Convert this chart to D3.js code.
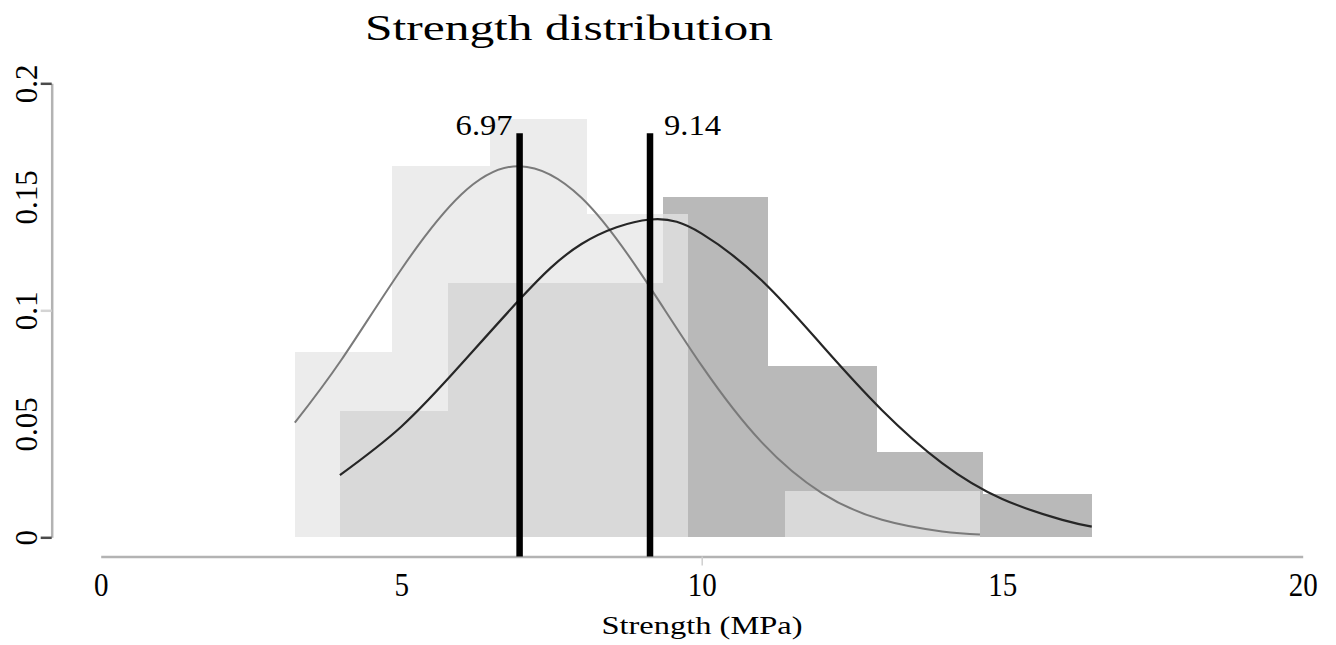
<!DOCTYPE html>
<html>
<head>
<meta charset="utf-8">
<script src="https://cdn.jsdelivr.net/npm/d3@7/dist/d3.min.js"></script>
<style>
  body { margin: 0; background: #fff; }
  svg { display: block; font-family: "Liberation Serif", "Times New Roman", serif; }
</style>
</head>
<body>
<div id="chart"></div>
<script>
'use strict';

// histogram 1 (light): bin edges in MPa and densities
let lightEdges = [3.23, 4.85, 6.48, 8.09, 9.77, 11.39, 13.0, 14.63];
let lightDensity = [0.0815, 0.1634, 0.1843, 0.1425, 0, 0.0205, 0.0205];

// histogram 2 (dark)
let darkEdges = [3.98, 5.78, 7.57, 9.36, 11.11, 12.92, 14.68, 16.49];
let darkDensity = [0.0557, 0.112, 0.112, 0.150, 0.0754, 0.0374, 0.0190];

// fitted density curves [MPa, density]
let lightCurve = [[3.23, 0.0505], [4, 0.078], [5, 0.118], [6, 0.151], [6.97, 0.1635],
    [8, 0.1496], [9, 0.1157], [10, 0.0756], [11, 0.0418], [12, 0.0195],
    [13, 0.0077], [14, 0.0026], [14.63, 0.0012]];
let darkCurve = [[3.98, 0.0274], [5, 0.0487], [6, 0.0763], [7, 0.1056], [8, 0.1292],
    [9.14, 0.140], [10, 0.1338], [11, 0.1131], [12, 0.0846], [13, 0.056],
    [14, 0.0327], [15, 0.0169], [16, 0.0077], [16.49, 0.0047]];

// mean markers
let means = [6.97, 9.14];
let meanLabels = ['6.97', '9.14'];
let meanTop = 0.178;

let xTicks = [0, 5, 10, 15, 20];
let yTicks = [0, 0.05, 0.1, 0.15, 0.2];

let width = 1336,
    height = 645;

let svg = d3.select('#chart')
    .append('svg')
    .attr('width', width)
    .attr('height', height);

let x = d3.scaleLinear().domain([0, 20]).range([100.7, 1302.7]);
let y = d3.scaleLinear().domain([0, 0.2]).range([537.3, 83.3]);
let xAxisY = 556.5,
    yAxisX = 51.7;

// turn edges + densities into bins
function bins(edges, dens) {
    return dens.map(function(d, i) {
        return {x0: edges[i], x1: edges[i + 1], v: d};
    });
}

// dark histogram first, light one on top with transparency
svg.append('g')
    .attr('shape-rendering', 'crispEdges')
    .selectAll('rect')
    .data(bins(darkEdges, darkDensity))
    .enter().append('rect')
    .attr('x', function(d) { return Math.round(x(d.x0)); })
    .attr('width', function(d) { return Math.round(x(d.x1)) - Math.round(x(d.x0)); })
    .attr('y', function(d) { return y(d.v); })
    .attr('height', function(d) { return y(0) - y(d.v); })
    .attr('fill', '#b9b9b9');

svg.append('g')
    .attr('shape-rendering', 'crispEdges')
    .selectAll('rect')
    .data(bins(lightEdges, lightDensity))
    .enter().append('rect')
    .attr('x', function(d) { return Math.round(x(d.x0)); })
    .attr('width', function(d) { return Math.round(x(d.x1)) - Math.round(x(d.x0)); })
    .attr('y', function(d) { return y(d.v); })
    .attr('height', function(d) { return y(0) - y(d.v); })
    .attr('fill', 'rgb(229,229,229)')
    .attr('fill-opacity', 0.73);

// curves
let line = d3.line()
    .x(function(d) { return x(d[0]); })
    .y(function(d) { return y(d[1]); })
    .curve(d3.curveNatural);

svg.append('path')
    .datum(lightCurve)
    .attr('d', line)
    .attr('fill', 'none')
    .attr('stroke', '#7a7a7a')
    .attr('stroke-width', 2);

svg.append('path')
    .datum(darkCurve)
    .attr('d', line)
    .attr('fill', 'none')
    .attr('stroke', '#262626')
    .attr('stroke-width', 2.2);

// x axis
let xAxis = svg.append('g')
    .attr('transform', 'translate(0,' + xAxisY + ')')
    .call(d3.axisBottom(x).tickValues(xTicks).tickSize(9).tickSizeOuter(0));
xAxis.select('.domain').attr('stroke', '#b3b3b3').attr('stroke-width', 2.5);
xAxis.selectAll('.tick line')
    .attr('stroke', '#cfcfcf')
    .attr('stroke-width', 1.5)
    .attr('stroke-opacity', function(d) { return d === 10 ? 1 : 0; });
xAxis.selectAll('.tick text')
    .attr('y', 40)
    .attr('dy', 0)
    .attr('fill', '#000')
    .attr('transform', 'scale(0.88,1)')
    .style('font-family', '"Liberation Serif", serif')
    .style('font-size', '33px');

// y axis
let yAxis = svg.append('g')
    .attr('transform', 'translate(' + yAxisX + ',0)')
    .call(d3.axisLeft(y).tickValues(yTicks).tickSize(11).tickSizeOuter(0)
        .tickFormat(function(d) { return String(d); }));
yAxis.select('.domain').attr('stroke', '#b3b3b3').attr('stroke-width', 2.5);
yAxis.selectAll('.tick line')
    .attr('stroke', function(d) { return d === 0.1 ? '#d4d4d4' : '#4a4a4a'; })
    .attr('stroke-width', 2.5)
    .attr('stroke-opacity', function(d) { return (d === 0 || d === 0.1 || d === 0.2) ? 1 : 0; });
yAxis.selectAll('.tick text')
    .attr('x', 0)
    .attr('y', 0)
    .attr('dy', 0)
    .attr('text-anchor', 'middle')
    .attr('transform', 'translate(-15,0) rotate(-90)')
    .attr('fill', '#000')
    .style('font-family', '"Liberation Serif", serif')
    .style('font-size', '31px');

// mean lines
svg.append('g')
    .selectAll('line')
    .data(means)
    .enter().append('line')
    .attr('x1', function(d) { return x(d); })
    .attr('x2', function(d) { return x(d); })
    .attr('y1', y(meanTop))
    .attr('y2', xAxisY)
    .attr('stroke', '#000')
    .attr('stroke-width', 6.5);

svg.append('g')
    .selectAll('text')
    .data(means)
    .enter().append('text')
    .attr('x', function(d, i) { return i === 0 ? x(d) - 7 : x(d) + 14; })
    .attr('y', 135)
    .attr('text-anchor', function(d, i) { return i === 0 ? 'end' : 'start'; })
    .attr('textLength', 57)
    .attr('lengthAdjust', 'spacingAndGlyphs')
    .style('font-size', '30px')
    .text(function(d, i) { return meanLabels[i]; });

// titles
svg.append('text')
    .attr('x', 569)
    .attr('y', 40)
    .attr('text-anchor', 'middle')
    .attr('textLength', 408)
    .attr('lengthAdjust', 'spacingAndGlyphs')
    .style('font-size', '36px')
    .text('Strength distribution');

svg.append('text')
    .attr('x', 702)
    .attr('y', 634)
    .attr('text-anchor', 'middle')
    .attr('textLength', 201)
    .attr('lengthAdjust', 'spacingAndGlyphs')
    .style('font-size', '25px')
    .text('Strength (MPa)');
</script>
</body>
</html>
